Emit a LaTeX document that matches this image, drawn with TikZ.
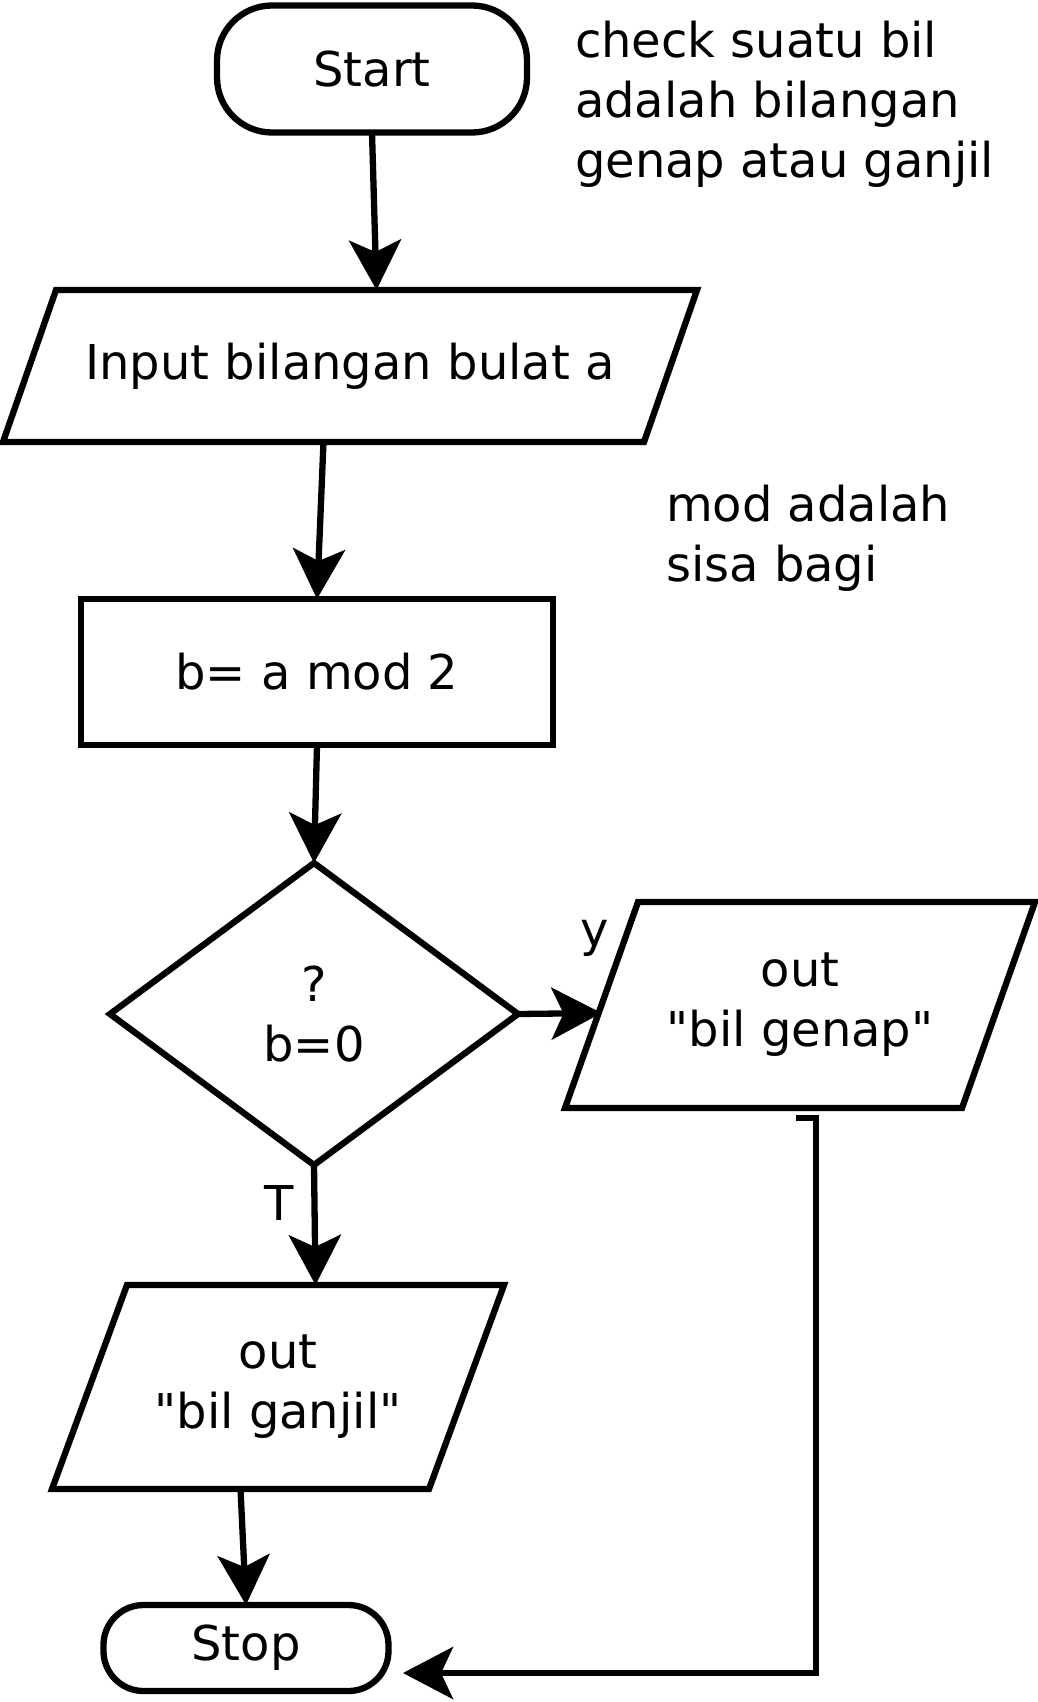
\documentclass[tikz,border=0pt]{standalone}
\usepackage{fontspec}
\setmainfont{DejaVu Sans}[Ligatures=TeXOff]
\usetikzlibrary{shapes.geometric,arrows.meta}
\begin{document}
\begin{tikzpicture}[x=1pt,y=-1pt,
  font=\fontsize{48}{60}\selectfont,
  every node/.style={inner sep=0pt, outer sep=0pt},
  shp/.style={draw, line width=6.3pt, align=center},
  outl/.style={line width=6.3pt, line join=miter},
  term/.style={shp, rectangle, rounded corners=#1},
  io/.style={rectangle, align=center},
  proc/.style={shp, rectangle},
  dec/.style={shp, diamond},
  note/.style={align=left, anchor=west},
  arr/.style={line width=6.3pt, -{Stealth[length=50pt,width=52pt,inset=12pt]}}
]
\useasboundingbox (0,0) rectangle (1038,1702);
\node[term=55pt, minimum width=310pt, minimum height=127pt] (start) at (372,69) {Start};
\node[note] (n1) at (575,104) {check suatu bil\\adalah bilangan\\genap atau ganjil};
\node[io, minimum width=641pt, minimum height=152pt] (input) at (350,366) {Input bilangan bulat a};
\draw[outl] ([xshift=26.5pt]input.north west) -- ([xshift=26.5pt]input.north east) -- ([xshift=-26.5pt]input.south east) -- ([xshift=-26.5pt]input.south west) -- cycle;
\node[note] (n2) at (666,538) {mod adalah\\sisa bagi};
\node[proc, minimum width=472pt, minimum height=146pt] (calc) at (317,672) {b= a mod 2};
\node[dec, minimum width=408pt, minimum height=302pt] (cond) at (314,1014) {?\\b=0};
\node[io, minimum width=397pt, minimum height=206pt] (genap) at (800,1005) {out\\"bil genap"};
\draw[outl] ([xshift=36.5pt]genap.north west) -- ([xshift=36.5pt]genap.north east) -- ([xshift=-36.5pt]genap.south east) -- ([xshift=-36.5pt]genap.south west) -- cycle;
\node[io, minimum width=377pt, minimum height=204pt] (ganjil) at (278,1387) {out\\"bil ganjil"};
\draw[outl] ([xshift=37.5pt]ganjil.north west) -- ([xshift=37.5pt]ganjil.north east) -- ([xshift=-37.5pt]ganjil.south east) -- ([xshift=-37.5pt]ganjil.south west) -- cycle;
\node[term=40pt, minimum width=285pt, minimum height=86pt] (stop) at (246,1648) {Stop};
\node (ly) at (595,938) {y};
\node (lt) at (279,1203) {T};
\coordinate (gbr) at (796,1118);
\coordinate (stopin) at (403,1673);
\draw[arr] (start.south) -- ([xshift=26.5pt]input.north);
\draw[arr] ([xshift=-26.5pt]input.south) -- (calc.north);
\draw[arr] (calc.south) -- (cond.north);
\draw[arr] (cond.east) -- ([yshift=-8pt]genap.west);
\draw[arr] (cond.south) -- ([xshift=37.5pt]ganjil.north);
\draw[arr] ([xshift=-37.5pt]ganjil.south) -- (stop.north);
\draw[arr] (gbr) -- ++(20,0) |- (stopin);
\end{tikzpicture}
\end{document}
